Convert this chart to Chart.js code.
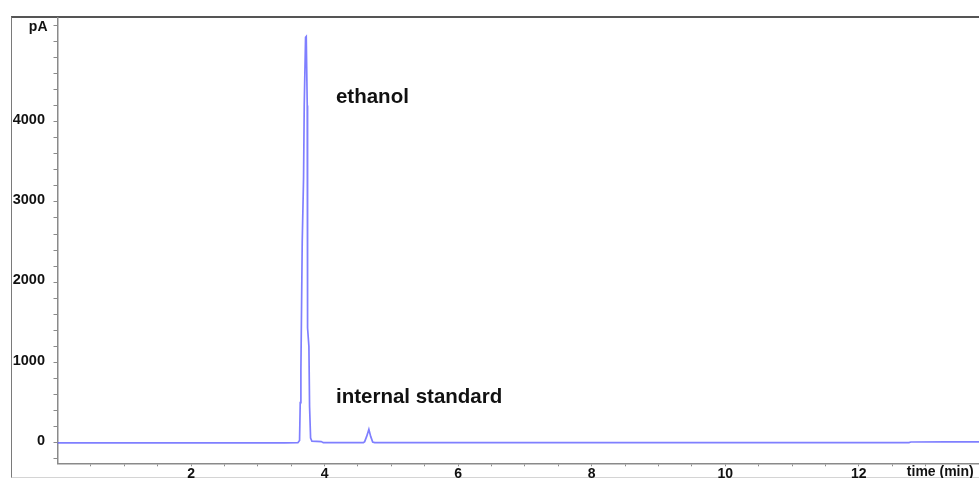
<!DOCTYPE html>
<html>
<head>
<meta charset="utf-8">
<script src="https://cdn.jsdelivr.net/npm/chart.js@4"></script>
<style>
  html, body { margin: 0; padding: 0; background: #fff; overflow: hidden; }
  #wrap { position: relative; width: 979px; height: 478px; overflow: hidden; background: #fff; }
  #frame { position: absolute; left: 11px; top: 16px; width: 980px; height: 459px;
           border-top: 2px solid #555; border-left: 1px solid #7a7a7a; border-bottom: 1px solid #d4d4d4; }
  #c { position: absolute; left: 0; top: 0; }
</style>
</head>
<body>
<div id="wrap">
  <div id="frame"></div>
  <canvas id="c" width="979" height="478"></canvas>
</div>
<script>
// Chromatogram trace: retention time (min) and detector signal (pA)
const times = [
  0, 1, 2, 3, 3.4, 3.6, 3.625, 3.635, 3.645, 3.655, 3.665, 3.685, 3.695, 3.715, 3.725,
  3.74, 3.745, 3.765, 3.775, 3.79, 3.81, 3.95, 3.98, 4.3, 4.58, 4.60, 4.63, 4.663, 4.69,
  4.72, 4.75, 6, 8, 10, 12, 12.75, 12.78, 13.3, 13.8
];
const signal = [
  0, 0, 0, 0, 0, 2, 30, 500, 900, 1700, 2500, 3300, 4200, 5050, 5060,
  4200, 1430, 1200, 450, 60, 20, 15, 2, 2, 2, 15, 80, 167, 80,
  10, 2, 2, 2, 2, 2, 2, 10, 12, 12
];

// Axis tick definitions
const xLabelValues = [2, 4, 6, 8, 10, 12];
const xMinorStep = 0.5;
const yLabelValues = [0, 1000, 2000, 3000, 4000];
const yMinorStep = 200;

// Peak labels (text, time, signal at text baseline)
const peakNames = ['ethanol', 'internal standard'];
const peakLabelTimes = [4.17, 4.17];
const peakLabelSignals = [4234, 494];

const yUnit = 'pA';
const xUnit = 'time (min)';

const FONT = "'Liberation Sans', Arial, sans-serif";

const annotate = {
  id: 'annotate',
  afterDraw(chart) {
    const ctx = chart.ctx;
    const xs = chart.scales.x, ys = chart.scales.y;
    ctx.save();
    ctx.fillStyle = '#111';
    ctx.font = 'bold 20.5px ' + FONT;
    ctx.textAlign = 'left';
    ctx.textBaseline = 'alphabetic';
    peakNames.forEach((t, i) => {
      ctx.fillText(t, xs.getPixelForValue(peakLabelTimes[i]), ys.getPixelForValue(peakLabelSignals[i]));
    });
    // unit labels
    ctx.font = 'bold 14px ' + FONT;
    ctx.textAlign = 'right';
    ctx.textBaseline = 'middle';
    ctx.fillText(yUnit, ys.right - 10, ys.getPixelForValue(5180));
    ctx.textAlign = 'center';
    ctx.textBaseline = 'top';
    ctx.fillText(xUnit, xs.getPixelForValue(13.22), xs.top + 1.5);
    ctx.restore();
  }
};

function buildTicks(min, max, step) {
  const out = [];
  const start = Math.ceil(min / step) * step;
  for (let v = start; v <= max + 1e-9; v += step) {
    const r = Math.round(v * 1000) / 1000;
    if (r > min) out.push({ value: r });
  }
  return out;
}

function noPad(s) {
  s.paddingTop = 0; s.paddingBottom = 0; s.paddingLeft = 0; s.paddingRight = 0;
}

new Chart(document.getElementById('c'), {
  type: 'line',
  data: {
    datasets: [{
      data: times.map((t, i) => ({ x: t, y: signal[i] })),
      borderColor: 'rgba(95, 95, 255, 0.8)',
      borderWidth: 1.7,
      pointRadius: 0,
      tension: 0,
      fill: false
    }]
  },
  options: {
    responsive: false,
    animation: false,
    events: [],
    layout: { padding: { top: 18, left: 0, right: 0, bottom: 0 } },
    plugins: { legend: { display: false }, tooltip: { enabled: false } },
    scales: {
      x: {
        type: 'linear',
        min: 0,
        max: 13.8,
        afterFit(s) { s.height = 14.7; noPad(s); },
        afterBuildTicks(s) { s.ticks = buildTicks(0, 13.5, xMinorStep); },
        grid: { drawOnChartArea: false, drawTicks: true, tickLength: 3, color: '#8a8a8a', lineWidth: 1 },
        border: { display: true, color: '#8a8a8a', width: 1.5 },
        ticks: {
          autoSkip: false, maxRotation: 0, padding: -1,
          color: '#111',
          font: { family: FONT, size: 14, weight: 'bold' },
          callback: v => xLabelValues.includes(v) ? String(v) : ''
        }
      },
      y: {
        type: 'linear',
        min: -255,
        max: 5290,
        afterFit(s) { s.width = 57.5; noPad(s); },
        afterBuildTicks(s) { s.ticks = buildTicks(-255, 5290, yMinorStep); },
        grid: { drawOnChartArea: false, drawTicks: true, tickLength: 4, color: '#8a8a8a', lineWidth: 1 },
        border: { display: true, color: '#8a8a8a', width: 1.5 },
        ticks: {
          autoSkip: false, padding: 8.5, labelOffset: -2,
          color: '#111',
          font: { family: FONT, size: 14.5, weight: 'bold' },
          callback: v => yLabelValues.includes(v) ? String(v) : ''
        }
      }
    }
  },
  plugins: [annotate]
});
</script>
</body>
</html>
